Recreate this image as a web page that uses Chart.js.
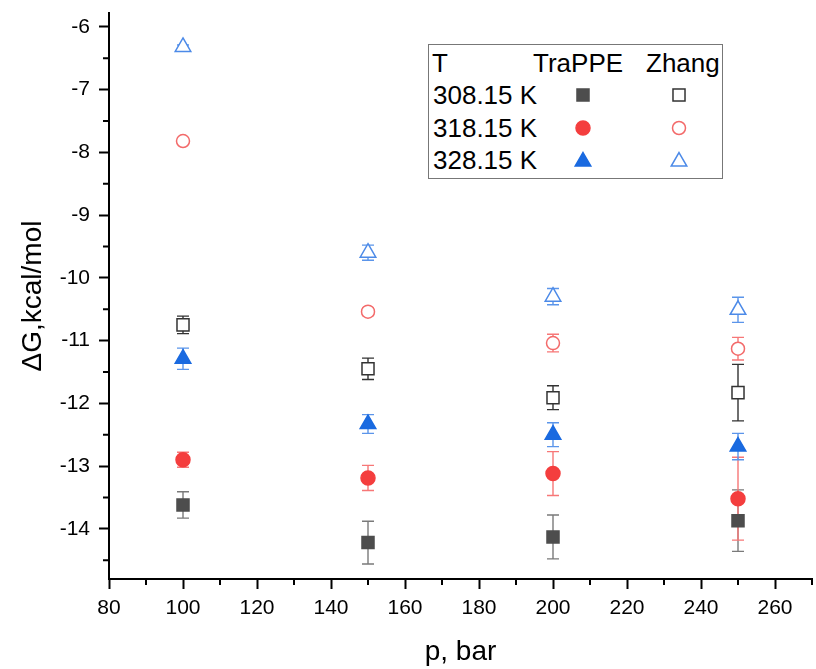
<!DOCTYPE html>
<html>
<head>
<meta charset="utf-8">
<script src="https://cdn.jsdelivr.net/npm/chart.js@4/dist/chart.umd.min.js"></script>
<style>
  body { margin: 0; background: #fff; }
  #wrap { position: relative; width: 816px; height: 669px; }
  #legend {
    position: absolute; left: 428px; top: 44px; width: 293px; height: 133px;
    border: 1.5px solid #777; background: #fff;
    font-family: "Liberation Sans", Arial, sans-serif; font-size: 26px; color: #000;
  }
  #legend span { position: absolute; line-height: 30px; white-space: nowrap; }
  #legend svg { position: absolute; }
</style>
</head>
<body>
<div id="wrap">
  <canvas id="chart" width="816" height="669"></canvas>
  <div id="legend"></div>
</div>
<script>
// Free energy vs pressure, two force fields at three temperatures

const pressures = [100, 150, 200, 250];

const trappe308 = [-13.62, -14.22, -14.13, -13.87];
const trappe308Err = [0.21, 0.34, 0.35, 0.49];
const trappe318 = [-12.90, -13.19, -13.12, -13.52];
const trappe318Err = [0.12, 0.20, 0.35, 0.66];
const trappe328 = [-11.29, -12.33, -12.50, -12.69];
const trappe328Err = [0.17, 0.15, 0.19, 0.21];

const zhang308 = [-10.75, -11.45, -11.91, -11.83];
const zhang308Err = [0.14, 0.17, 0.19, 0.45];
const zhang318 = [-7.82, -10.54, -11.04, -11.13];
const zhang318Err = [0.05, 0.06, 0.14, 0.18];
const zhang328 = [-6.32, -9.60, -10.30, -10.51];
const zhang328Err = [0.03, 0.12, 0.13, 0.20];

const temperatures = ['308.15 K', '318.15 K', '328.15 K'];
const legendHeader = ['T', 'TraPPE', 'Zhang'];

const xMinorTicks = [90, 110, 130, 150, 170, 190, 210, 230, 250, 270];
const yMinorTicks = [-6.5, -7.5, -8.5, -9.5, -10.5, -11.5, -12.5, -13.5, -14.5];

function toPoints(values) {
    return values.map((v, i) => ({ x: pressures[i], y: v }));
}

// vertical error bars with caps, drawn under the markers
const errorBarPlugin = {
    id: 'errorBars',
    beforeDatasetsDraw(chart) {
        const ctx = chart.ctx;
        const xs = chart.scales.x;
        const ys = chart.scales.y;
        chart.data.datasets.forEach(ds => {
            if (!ds.errors) return;
            ctx.save();
            ctx.strokeStyle = ds.errorColor;
            ctx.lineWidth = 1.4;
            ds.data.forEach((pt, j) => {
                const e = ds.errors[j];
                const px = xs.getPixelForValue(pt.x);
                const top = ys.getPixelForValue(pt.y + e);
                const bot = ys.getPixelForValue(pt.y - e);
                ctx.beginPath();
                ctx.moveTo(px, top); ctx.lineTo(px, bot);
                ctx.moveTo(px - 6, top); ctx.lineTo(px + 6, top);
                ctx.moveTo(px - 6, bot); ctx.lineTo(px + 6, bot);
                ctx.stroke();
            });
            ctx.restore();
        });
    }
};

// short minor ticks between the labelled ones
const minorTickPlugin = {
    id: 'minorTicks',
    afterDraw(chart) {
        const ctx = chart.ctx;
        const xs = chart.scales.x;
        const ys = chart.scales.y;
        const area = chart.chartArea;
        ctx.save();
        ctx.strokeStyle = '#000';
        ctx.lineWidth = 2;
        ctx.beginPath();
        xMinorTicks.forEach(v => {
            const px = xs.getPixelForValue(v);
            ctx.moveTo(px, area.bottom);
            ctx.lineTo(px, area.bottom + 6);
        });
        yMinorTicks.forEach(v => {
            const py = ys.getPixelForValue(v);
            ctx.moveTo(area.left, py);
            ctx.lineTo(area.left - 6, py);
        });
        ctx.stroke();
        ctx.restore();
    }
};

function makeSet(label, values, errors, style, radius, color, fill, errorColor) {
    return {
        label: label,
        data: toPoints(values),
        errors: errors,
        errorColor: errorColor,
        pointStyle: style,
        pointRadius: radius,
        pointHoverRadius: radius,
        pointBorderColor: color,
        pointBackgroundColor: fill,
        pointBorderWidth: 1.5,
        showLine: false
    };
}

const datasets = [
    makeSet('TraPPE 308.15 K', trappe308, trappe308Err, 'rect', 8.5, '#4d4d4d', '#4d4d4d', '#7a7a7a'),
    makeSet('Zhang 308.15 K', zhang308, zhang308Err, 'rect', 8.5, '#333333', '#ffffff', '#333333'),
    makeSet('TraPPE 318.15 K', trappe318, trappe318Err, 'circle', 7, '#f43e3e', '#f43e3e', '#f77777'),
    makeSet('Zhang 318.15 K', zhang318, zhang318Err, 'circle', 6.5, '#f36a6a', '#ffffff', '#f77777'),
    makeSet('TraPPE 328.15 K', trappe328, trappe328Err, 'triangle', 9, '#1a6ae0', '#1a6ae0', '#5b95ea'),
    makeSet('Zhang 328.15 K', zhang328, zhang328Err, 'triangle', 9, '#4c8ae8', '#ffffff', '#5b95ea')
];

const tickFont = { family: '"Liberation Sans", Arial, sans-serif', size: 21 };
const titleFont = { family: '"Liberation Sans", Arial, sans-serif', size: 28 };

function fixX(scale) {
    scale.height = 90;
    scale.paddingLeft = 0;
    scale.paddingRight = 0;
}

function fixY(scale) {
    scale.width = 109;
    scale.paddingTop = 0;
    scale.paddingBottom = 0;
}

new Chart(document.getElementById('chart'), {
    type: 'scatter',
    data: { datasets: datasets },
    plugins: [errorBarPlugin, minorTickPlugin],
    options: {
        responsive: false,
        animation: false,
        devicePixelRatio: 1,
        layout: { autoPadding: false, padding: { top: 13, right: 4, left: 0, bottom: 0 } },
        plugins: {
            legend: { display: false },
            tooltip: { enabled: false }
        },
        scales: {
            x: {
                type: 'linear',
                min: 80,
                max: 270,
                afterFit: fixX,
                border: { display: true, color: '#000', width: 2 },
                grid: { drawOnChartArea: false, drawTicks: true, tickLength: 10, tickColor: '#000', tickWidth: 2 },
                ticks: { stepSize: 20, includeBounds: false, color: '#000', font: tickFont, padding: 7, maxRotation: 0 },
                title: { display: true, text: 'p, bar', color: '#000', font: titleFont, padding: { top: 0, bottom: 0 } }
            },
            y: {
                type: 'linear',
                min: -14.8,
                max: -5.78,
                afterFit: fixY,
                border: { display: true, color: '#000', width: 2 },
                grid: { drawOnChartArea: false, drawTicks: true, tickLength: 10, tickColor: '#000', tickWidth: 2 },
                ticks: { stepSize: 1, includeBounds: false, color: '#000', font: tickFont, padding: 9 },
                title: { display: true, text: 'ΔG,kcal/mol', color: '#000', font: titleFont, padding: { top: 16, bottom: 0 } }
            }
        }
    }
});

// legend table: header row, then one row per temperature with both markers
const legend = document.getElementById('legend');
const boxLeft = 428, boxTop = 44;
const headerX = [431, 532, 645];
const rowY = [63, 95, 128, 160];
const markerX = [583, 679];

function addText(text, x, cy) {
    const s = document.createElement('span');
    s.textContent = text;
    s.style.left = (x - boxLeft) + 'px';
    s.style.top = (cy - boxTop - 15 - 1.5) + 'px';
    legend.appendChild(s);
}

function addMarker(ds, cx, cy) {
    const size = 22;
    const ns = 'http://www.w3.org/2000/svg';
    const svg = document.createElementNS(ns, 'svg');
    svg.setAttribute('width', size);
    svg.setAttribute('height', size);
    svg.style.left = (cx - boxLeft - size / 2 - 1.5) + 'px';
    svg.style.top = (cy - boxTop - size / 2 - 1.5) + 'px';
    let shape;
    const c = size / 2;
    if (ds.pointStyle === 'rect') {
        shape = document.createElementNS(ns, 'rect');
        const h = ds.pointRadius * Math.SQRT1_2;
        shape.setAttribute('x', c - h);
        shape.setAttribute('y', c - h);
        shape.setAttribute('width', 2 * h);
        shape.setAttribute('height', 2 * h);
    } else if (ds.pointStyle === 'circle') {
        shape = document.createElementNS(ns, 'circle');
        shape.setAttribute('cx', c);
        shape.setAttribute('cy', c);
        shape.setAttribute('r', ds.pointRadius);
    } else {
        shape = document.createElementNS(ns, 'polygon');
        const r = ds.pointRadius;
        const pts = [0, 1, 2].map(k => {
            const a = k * 2 * Math.PI / 3;
            return (c + Math.sin(a) * r) + ',' + (c + 1.5 - Math.cos(a) * r);
        });
        shape.setAttribute('points', pts.join(' '));
    }
    shape.setAttribute('fill', ds.pointBackgroundColor);
    shape.setAttribute('stroke', ds.pointBorderColor);
    shape.setAttribute('stroke-width', 1.5);
    svg.appendChild(shape);
    legend.appendChild(svg);
}

legendHeader.forEach((t, i) => addText(t, headerX[i], rowY[0]));
temperatures.forEach((t, i) => {
    addText(t, 432, rowY[i + 1]);
    addMarker(datasets[i * 2], markerX[0], rowY[i + 1]);
    addMarker(datasets[i * 2 + 1], markerX[1], rowY[i + 1]);
});
</script>
</body>
</html>
